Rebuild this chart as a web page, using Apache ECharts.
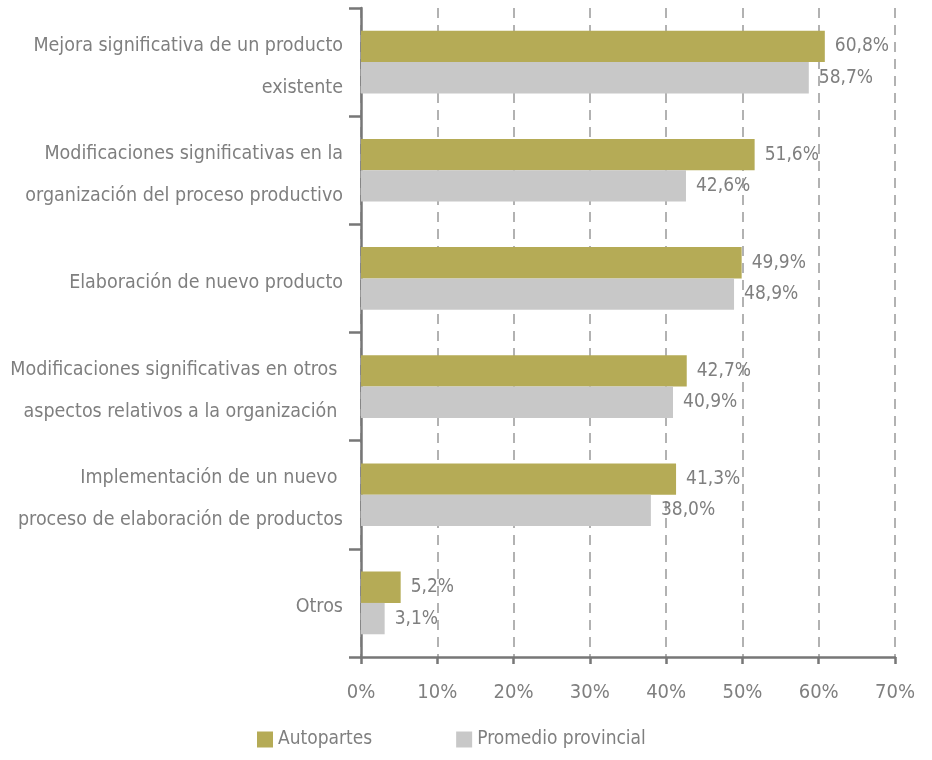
<!DOCTYPE html>
<html>
<head>
<meta charset="utf-8">
<script src="https://cdn.jsdelivr.net/npm/echarts@6/dist/echarts.min.js"></script>
<style>
  html, body { margin: 0; padding: 0; background: #fff; }
  #chart { width: 932px; height: 760px; }
</style>
</head>
<body>
<div id="chart"></div>
<script>
// categorias (de arriba hacia abajo)
var categorias = [
    'Mejora significativa de un producto\nexistente',
    'Modificaciones significativas en la\norganización del proceso productivo',
    'Elaboración de nuevo producto',
    'Modificaciones significativas en otros \naspectos relativos a la organización ',
    'Implementación de un nuevo \nproceso de elaboración de productos',
    'Otros'
];
var autopartes = [60.8, 51.6, 49.9, 42.7, 41.3, 5.2];
var promedioProvincial = [58.7, 42.6, 48.9, 40.9, 38.0, 3.1];
var ejeX = [0, 10, 20, 30, 40, 50, 60, 70];

var fuente = '"Liberation Sans Narrow", "DejaVu Sans Condensed", "Roboto", sans-serif';
var gris = '#7f7f7f';

var chart = echarts.init(document.getElementById('chart'));

function etiqueta(p) {
    return p.value.toFixed(1).replace('.', ',') + '%';
}

var option = {
    animation: false,
    textStyle: { fontFamily: fuente },
    grid: { left: 361, right: 37, top: 8, bottom: 103, containLabel: false },
    legend: {
        bottom: 6,
        left: 252,
        itemWidth: 16,
        itemHeight: 16,
        itemGap: 84,
        icon: 'rect',
        textStyle: { fontFamily: fuente, fontSize: 19, color: gris },
        data: ['Autopartes', 'Promedio provincial']
    },
    xAxis: {
        type: 'value',
        min: ejeX[0],
        max: ejeX[ejeX.length - 1],
        interval: 10,
        axisLine: { show: true, lineStyle: { color: '#777', width: 2.5 } },
        axisTick: { show: true, length: 7, lineStyle: { color: '#777', width: 2.5 } },
        axisLabel: {
            margin: 26,
            fontSize: 20,
            color: gris,
            fontFamily: fuente,
            formatter: function (v) { return v + '%'; }
        },
        splitLine: { show: true, lineStyle: { color: '#999', width: 1.5, type: [10, 7] } }
    },
    yAxis: {
        type: 'category',
        inverse: true,
        data: categorias,
        axisLine: { show: true, lineStyle: { color: '#777', width: 2.5 } },
        axisTick: { show: true, length: 12, lineStyle: { color: '#777', width: 2.5 } },
        axisLabel: {
            margin: 18,
            fontSize: 19.5,
            lineHeight: 42,
            color: gris,
            fontFamily: fuente,
            align: 'right',
            formatter: function (v) {
                return v.split('\n').map(function (s) { return '{t|' + s + '}'; }).join('\n');
            },
            rich: {
                t: { fontSize: 19.5, lineHeight: 42, color: gris, fontFamily: fuente, padding: [9, 0, 0, 0] }
            }
        }
    },
    series: [
        {
            name: 'Autopartes',
            type: 'bar',
            data: autopartes,
            barGap: '0%',
            barCategoryGap: '42%',
            itemStyle: { color: '#b5ab56' },
            label: {
                show: true, position: 'right', distance: 10,
                fontSize: 19, color: gris, fontFamily: fuente,
                formatter: etiqueta
            }
        },
        {
            name: 'Promedio provincial',
            type: 'bar',
            data: promedioProvincial,
            barGap: '0%',
            barCategoryGap: '42%',
            itemStyle: { color: '#c8c8c8' },
            label: {
                show: true, position: 'right', distance: 10,
                fontSize: 19, color: gris, fontFamily: fuente,
                formatter: etiqueta
            }
        }
    ]
};

chart.setOption(option);
</script>
</body>
</html>
